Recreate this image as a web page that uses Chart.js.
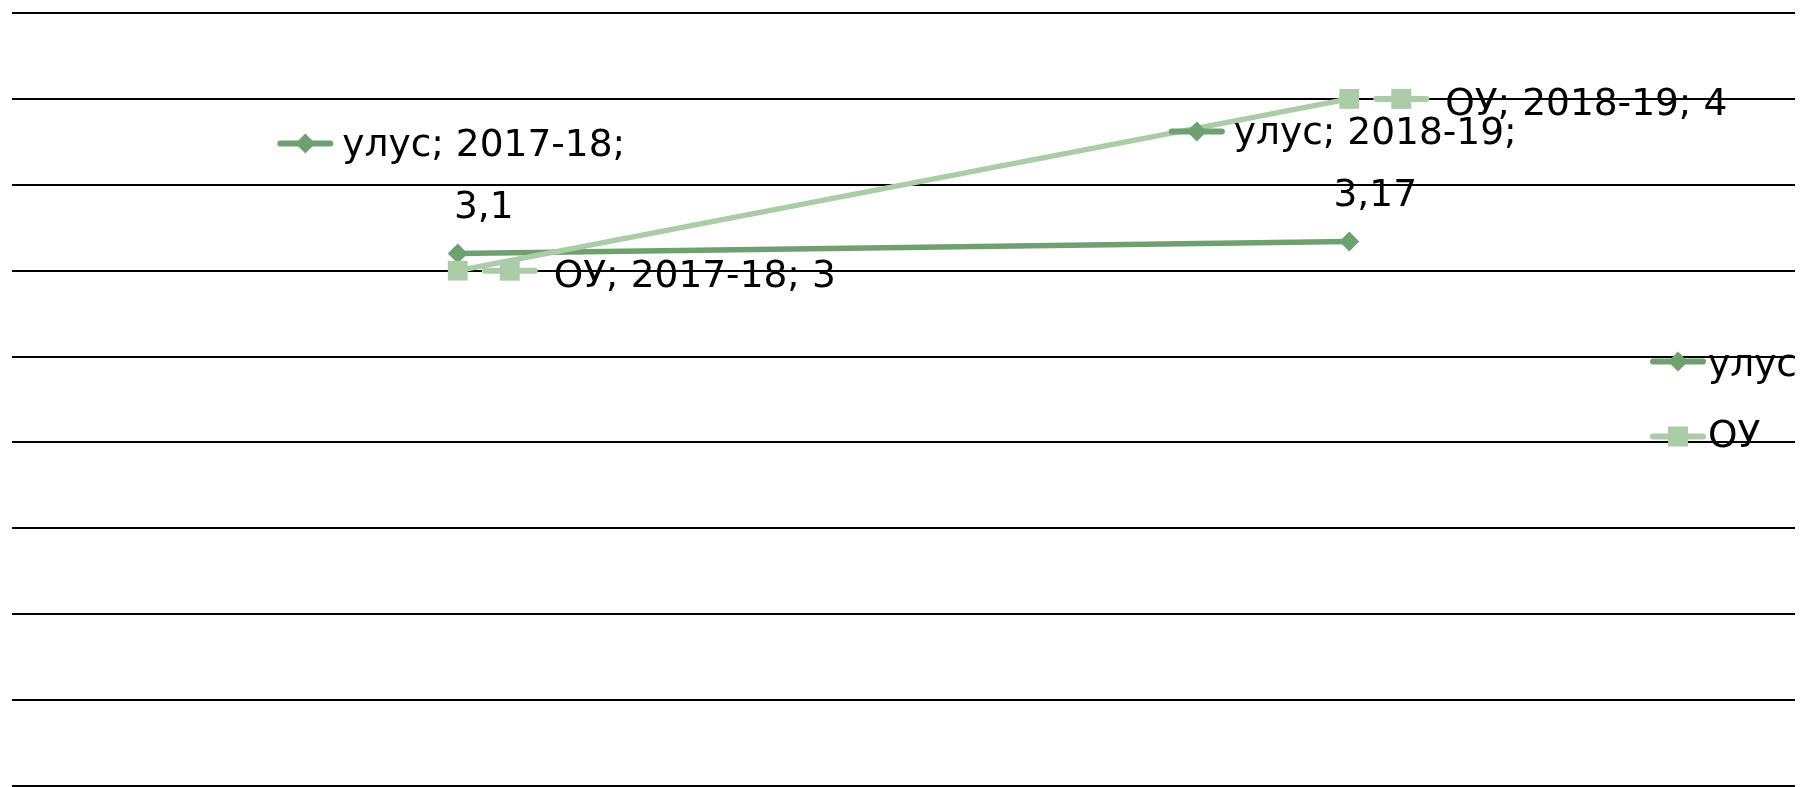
<!DOCTYPE html>
<html>
<head>
<meta charset="utf-8">
<script src="https://cdn.jsdelivr.net/npm/chart.js@4.4.1/dist/chart.umd.min.js"></script>
<style>
  html, body { margin: 0; padding: 0; background: #fff; }
  #wrap { width: 1800px; height: 787px; }
</style>
</head>
<body>
<div id="wrap"><canvas id="graficoUlus"></canvas></div>
<script>
// dados
var anos = ['2017-18', '2018-19'];
var ulus = [3.1, 3.17];
var ou = [3, 4];
var nomes = ['улус', 'ОУ'];
var yMin = 0, yMax = 4.5, yPasso = 0.5;

var corUlus = 'rgb(110, 160, 112)';
var corOu = 'rgb(170, 205, 168)';
var fonte = '37.5px "DejaVu Sans"';

function fmt(v) {
    return String(v).replace('.', ',');
}

// chave da legenda: linha + marcador
function desenhaChave(ctx, cx, cy, estilo, cor) {
    ctx.save();
    ctx.strokeStyle = cor;
    ctx.fillStyle = cor;
    ctx.lineWidth = 6;
    ctx.lineCap = 'round';
    ctx.beginPath();
    ctx.moveTo(cx - 25, cy);
    ctx.lineTo(cx + 25, cy);
    ctx.stroke();
    ctx.beginPath();
    if (estilo === 'rect') {
        ctx.rect(cx - 10, cy - 10, 20, 20);
    } else {
        ctx.moveTo(cx, cy - 10);
        ctx.lineTo(cx + 10, cy);
        ctx.lineTo(cx, cy + 10);
        ctx.lineTo(cx - 10, cy);
        ctx.closePath();
    }
    ctx.fill();
    ctx.restore();
}

var rotulos = {
    id: 'rotulos',
    afterDatasetsDraw: function (chart) {
        var ctx = chart.ctx;
        ctx.save();
        ctx.font = fonte;
        ctx.fillStyle = '#000';
        ctx.textBaseline = 'alphabetic';

        // улус: rótulo acima do ponto, em duas linhas
        var metaU = chart.getDatasetMeta(0);
        metaU.data.forEach(function (p, i) {
            var l1 = nomes[0] + '; ' + anos[i] + ';';
            var l2 = fmt(ulus[i]);
            var w1 = ctx.measureText(l1).width;
            var total = 50 + 12 + w1;
            var x0 = p.x - total / 2 - 5;
            desenhaChave(ctx, x0 + 25, p.y - 110, 'rectRot', corUlus);
            ctx.textAlign = 'left';
            ctx.fillText(l1, x0 + 62, p.y - 97);
            ctx.textAlign = 'center';
            ctx.fillText(l2, x0 + 62 + w1 / 2, p.y - 35);
        });

        // ОУ: rótulo à direita do ponto
        var metaO = chart.getDatasetMeta(1);
        metaO.data.forEach(function (p, i) {
            var txt = nomes[1] + '; ' + anos[i] + '; ' + fmt(ou[i]);
            desenhaChave(ctx, p.x + 52, p.y, 'rect', corOu);
            ctx.textAlign = 'left';
            ctx.fillText(txt, p.x + 96, p.y + 16);
        });

        // legenda à direita, sobre a área do gráfico
        var a = chart.chartArea;
        var meio = (a.top + a.bottom) / 2;
        var lx = a.right - 117;
        desenhaChave(ctx, lx, meio - 38, 'rectRot', corUlus);
        desenhaChave(ctx, lx, meio + 37, 'rect', corOu);
        ctx.textAlign = 'left';
        ctx.fillText(nomes[0], lx + 30, meio - 38 + 14);
        ctx.fillText(nomes[1], lx + 30, meio + 37 + 10);
        ctx.restore();
    }
};

var ctxUlus = document.getElementById('graficoUlus').getContext('2d');
new Chart(ctxUlus, {
    type: 'line',
    data: {
        labels: anos,
        datasets: [
            {
                label: nomes[0],
                data: ulus,
                borderColor: corUlus,
                backgroundColor: corUlus,
                borderWidth: 5.5,
                pointStyle: 'rectRot',
                pointRadius: 10,
                pointBorderWidth: 0,
                order: 1
            },
            {
                label: nomes[1],
                data: ou,
                borderColor: corOu,
                backgroundColor: corOu,
                borderWidth: 5.5,
                pointStyle: 'rect',
                pointRadius: 14,
                pointBorderWidth: 0,
                order: 0
            }
        ]
    },
    options: {
        responsive: true,
        maintainAspectRatio: false,
        animation: false,
        layout: { autoPadding: false, padding: { left: 12, right: 5, top: 13, bottom: 1 } },
        plugins: {
            legend: { display: false },
            tooltip: { enabled: false }
        },
        scales: {
            x: {
                display: false,
                offset: true
            },
            y: {
                min: yMin,
                max: yMax,
                ticks: { display: false, stepSize: yPasso },
                border: { display: false },
                grid: { color: '#000', lineWidth: 2, drawTicks: false },
                afterFit: function (s) { s.width = 0; }
            }
        }
    },
    plugins: [rotulos]
});
</script>
</body>
</html>
